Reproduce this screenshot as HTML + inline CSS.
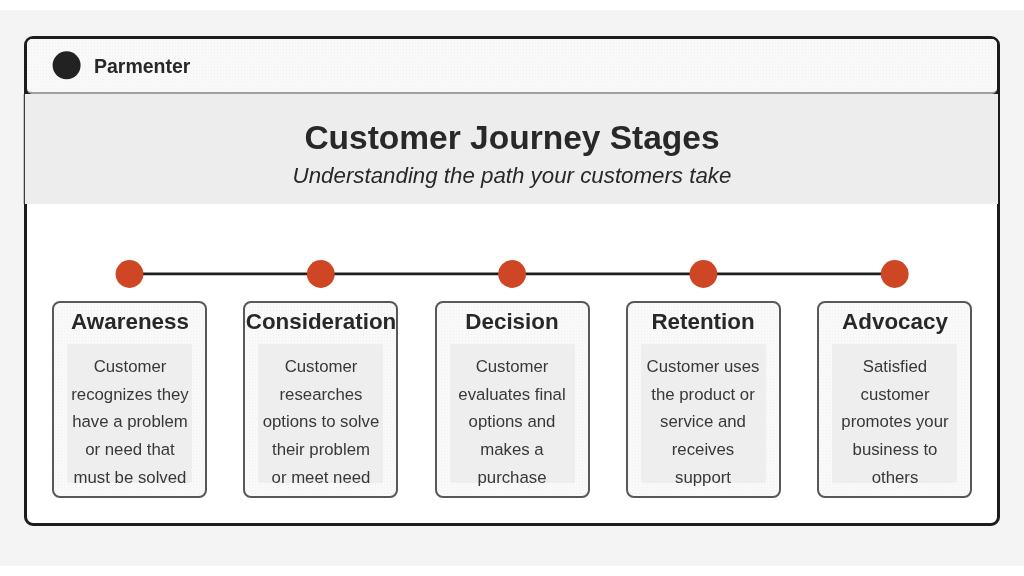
<!DOCTYPE html>
<html><head><meta charset="utf-8">
<style>
html,body{margin:0;padding:0;width:1024px;height:576px;overflow:hidden;background:#fff;font-family:"Liberation Sans",sans-serif;color:#222}
div{box-sizing:border-box}
.abs{position:absolute}
.bg{position:absolute;left:0;top:10px;width:1024px;height:556px;background:#f4f4f4}
.card{position:absolute;left:24px;top:36px;width:976px;height:490px;border:3px solid #1c1c1c;border-radius:9px;background:#fff;overflow:hidden}
.hdr{position:absolute;left:27px;top:39px;width:970px;height:55px;background:#f8f8f8;border-bottom:2px solid #a0a0a0;border-radius:5px}
.brand{position:absolute;left:94.3px;top:54px;line-height:24px;font-size:19.5px;font-weight:bold;color:#282828;white-space:nowrap}
.hero{position:absolute;left:25px;top:94px;width:973px;height:110px;background:#ededed}
.corner{position:absolute;top:86px;width:8px;height:8px;background:#1c1c1c}
.title{position:absolute;left:0;width:1024px;text-align:center;font-weight:bold;font-size:33.5px;line-height:40px;top:118px;color:#282828;white-space:nowrap}
.sub{position:absolute;left:0;width:1024px;text-align:center;font-style:italic;font-size:22.3px;line-height:30px;top:161.1px;color:#282828;white-space:nowrap}
.stage{position:absolute;top:301px;width:155px;height:197px;border:2px solid #585858;border-radius:8px;background:#f8f8f8}
.st{position:absolute;top:307.3px;width:200px;text-align:center;font-size:22.4px;font-weight:bold;line-height:30px;color:#282828;white-space:nowrap}
.desc{position:absolute;top:344px;width:125px;height:139px;background:#eeeeee;border-radius:2px}
.dt{position:absolute;top:353.4px;width:200px;text-align:center;font-size:16.8px;line-height:27.73px;color:#383838;white-space:nowrap}
svg{position:absolute;left:0;top:0}
.tex{background-color:#f9f9f9;background-image:radial-gradient(circle at 50% 50%, rgba(0,0,0,0.03) 0.5px, rgba(0,0,0,0) 0.9px);background-size:3px 3px}
.brand,.title,.sub,.st,.dt{will-change:transform}
</style></head><body>
<div class="bg"></div>
<div class="card"></div>
<div class="corner" style="left:27px"></div><div class="corner" style="left:989px"></div>
<div class="hdr tex"></div>
<div class="hero"></div>
<div class="abs" style="left:23px;top:94px;width:1px;height:110px;background:#c4c4c4"></div><div class="abs" style="left:24px;top:94px;width:1px;height:110px;background:#3c3c3c"></div>
<div class="brand">Parmenter</div>
<div class="title">Customer Journey Stages</div>
<div class="sub">Understanding the path your customers take</div>
<svg width="1024" height="576" viewBox="0 0 1024 576">
  <circle cx="66.6" cy="65.3" r="14" fill="#222"/>
  <line x1="129.5" y1="273.9" x2="894.7" y2="273.9" stroke="#1e1e1e" stroke-width="2.7"/>
  <circle cx="129.5" cy="274" r="13.9" fill="#ce4623"/>
  <circle cx="320.8" cy="274" r="13.9" fill="#ce4623"/>
  <circle cx="512.1" cy="274" r="13.9" fill="#ce4623"/>
  <circle cx="703.4" cy="274" r="13.9" fill="#ce4623"/>
  <circle cx="894.7" cy="274" r="13.9" fill="#ce4623"/>
</svg>

<div class="stage tex" style="left:52px"></div>
<div class="stage tex" style="left:243px"></div>
<div class="stage tex" style="left:435px"></div>
<div class="stage tex" style="left:626px"></div>
<div class="stage tex" style="left:817px"></div>

<div class="desc" style="left:67px"></div>
<div class="desc" style="left:258px"></div>
<div class="desc" style="left:450px"></div>
<div class="desc" style="left:641px"></div>
<div class="desc" style="left:832px"></div>

<div class="st" style="left:29.5px">Awareness</div>
<div class="st" style="left:220.8px">Consideration</div>
<div class="st" style="left:412.1px">Decision</div>
<div class="st" style="left:603.4px">Retention</div>
<div class="st" style="left:794.7px">Advocacy</div>

<div class="dt" style="left:29.5px">Customer<br>recognizes they<br>have a problem<br>or need that<br>must be solved</div>
<div class="dt" style="left:220.8px">Customer<br>researches<br>options to solve<br>their problem<br>or meet need</div>
<div class="dt" style="left:412.1px">Customer<br>evaluates final<br>options and<br>makes a<br>purchase</div>
<div class="dt" style="left:603.4px">Customer uses<br>the product or<br>service and<br>receives<br>support</div>
<div class="dt" style="left:794.7px">Satisfied<br>customer<br>promotes your<br>business to<br>others</div>
</body></html>
